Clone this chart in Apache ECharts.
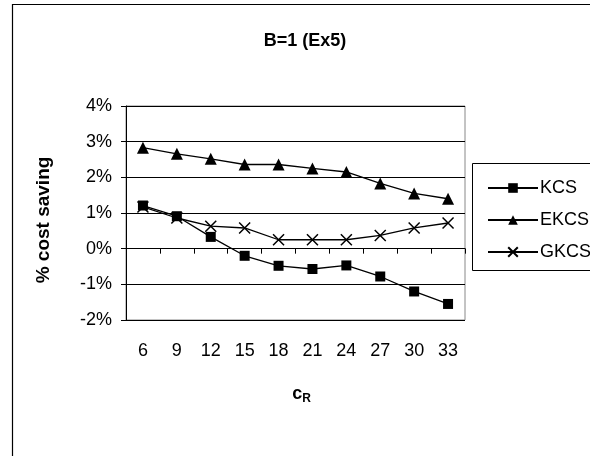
<!DOCTYPE html>
<html>
<head>
<meta charset="utf-8">
<script src="https://cdn.jsdelivr.net/npm/echarts@6/dist/echarts.min.js"></script>
<style>html,body{margin:0;padding:0;background:#fff}#c{width:590px;height:456px}</style>
</head>
<body>
<div id="c"></div>
<script>
const categories = ['6','9','12','15','18','21','24','27','30','33'];
const kcs  = [1.21, 0.91, 0.33, -0.20, -0.48, -0.57, -0.47, -0.78, -1.20, -1.55];
const ekcs = [2.83, 2.66, 2.52, 2.36, 2.36, 2.25, 2.15, 1.83, 1.55, 1.40];
const gkcs = [1.17, 0.86, 0.63, 0.58, 0.25, 0.25, 0.25, 0.37, 0.58, 0.72];
const yTicks = [-2, -1, 0, 1, 2, 3, 4];

const F = 'Liberation Sans, Arial, sans-serif';
const chart = echarts.init(document.getElementById('c'), null, {renderer:'canvas'});
const crossPath = 'path://M0,0L10,10M10,0L0,10';
chart.setOption({
  animation: false,
  backgroundColor: '#fff',
  title: {
    text: 'B=1 (Ex5)', left: 300, top: 27, textAlign: 'center',
    textStyle: {fontFamily: F, fontSize: 18, fontWeight: 'bold', color: '#000'}
  },
  graphic: [
    {type:'rect', shape:{x:12.5, y:4.5, width:700, height:600}, style:{fill:'none', stroke:'#000', lineWidth:1.2}, z:-1},
    {type:'rect', shape:{x:472.5, y:163.5, width:200, height:107}, style:{fill:'#fff', stroke:'#000', lineWidth:1}, z:0}
  ],
  legend: {
    orient: 'vertical', left: 482, top: 174, itemWidth: 50, itemHeight: 12, itemGap: 14,
    textStyle: {fontFamily: F, fontSize: 18, color: '#000', padding:[0,0,0,-3]},
    data: ['KCS','EKCS','GKCS'], z: 5
  },
  grid: {left: 126, right: 125, top: 106, bottom: 136, show: true, borderColor: '#888', borderWidth: 1},
  xAxis: [
    {
      type: 'category', data: categories, position: 'bottom', boundaryGap: true,
      axisLine: {show: false, onZero: false}, axisTick: {show: false},
      axisLabel: {fontFamily: F, fontSize: 18, color: '#000', margin: 22},
      name: '{c|c}{r|R}', nameLocation: 'middle', nameGap: 63,
      nameTextStyle: {padding:[0,0,0,12], rich: {
        c: {fontFamily: F, fontSize: 18, fontWeight: 'bold', color: '#000'},
        r: {fontFamily: F, fontSize: 12, fontWeight: 'bold', color: '#000', verticalAlign: 'bottom', padding:[10,0,0,0]}
      }}
    },
    {
      type: 'category', data: categories, position: 'bottom', boundaryGap: true,
      axisLine: {show: true, onZero: true, lineStyle: {color: '#000', width: 1}},
      axisTick: {show: true, length: 5, lineStyle: {color: '#000'}},
      axisLabel: {show: false}
    }
  ],
  yAxis: {
    type: 'value', min: -2, max: 4, interval: 1,
    axisLine: {show: true, lineStyle: {color: '#000'}},
    axisTick: {show: true, length: 5, lineStyle: {color: '#000'}},
    axisLabel: {fontFamily: F, fontSize: 18, color: '#000', margin: 14,
      formatter: v => yTicks.includes(v) ? v + '%' : ''},
    splitLine: {show: true, lineStyle: {color: '#000', width: 1}},
    name: '% cost saving', nameLocation: 'middle', nameGap: 73, nameRotate: 90,
    nameTextStyle: {fontFamily: F, fontSize: 19, fontWeight: 'bold', color: '#000', padding:[0,0,0,-14]}
  },
  series: [
    {name:'KCS', type:'line', data: kcs, symbol:'rect', symbolSize: 10,
     lineStyle:{color:'#000', width:1.3}, itemStyle:{color:'#000'}},
    {name:'EKCS', type:'line', data: ekcs, symbol:'triangle', symbolSize: 12,
     lineStyle:{color:'#000', width:1.3}, itemStyle:{color:'#000'}},
    {name:'GKCS', type:'line', data: gkcs, symbol: crossPath, symbolSize: 11,
     lineStyle:{color:'#000', width:1.3}, itemStyle:{color:'#000', borderColor:'#000', borderWidth:1.5}}
  ]
});
</script>
</body>
</html>
